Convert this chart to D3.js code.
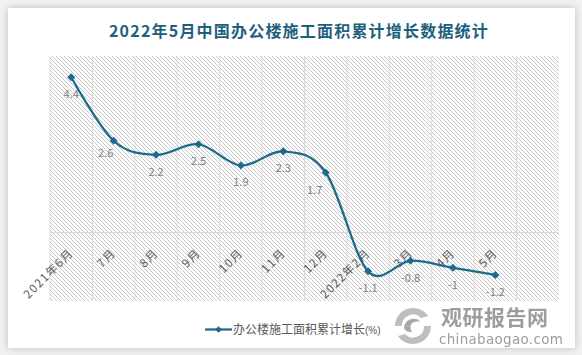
<!DOCTYPE html>
<html><head><meta charset="utf-8">
<script src="https://cdn.jsdelivr.net/npm/d3@7/dist/d3.min.js"></script>
<style>
html,body{margin:0;padding:0;background:#fff;}
svg{display:block;font-family:"Noto Sans CJK SC","Noto Sans",sans-serif;}
</style></head>
<body><svg id="c" width="582" height="355"></svg>
<script>
const title = "2022年5月中国办公楼施工面积累计增长数据统计";
const categories = ["2021年6月","7月","8月","9月","10月","11月","12月","2022年2月","3月","4月","5月"];
const values = [4.4, 2.6, 2.2, 2.5, 1.9, 2.3, 1.7, -1.1, -0.8, -1, -1.2];
const seriesName = "办公楼施工面积累计增长";
const seriesUnit = "(%)";
const yDomain = [-1.94, 5];

const svg = d3.select("#c");
const W = 582, H = 355;
const defs = svg.append("defs");
const f = defs.append("filter").attr("id","sh").attr("x","-5%").attr("y","-5%").attr("width","110%").attr("height","110%");
f.append("feDropShadow").attr("dx",0).attr("dy",0).attr("stdDeviation",3.5).attr("flood-color","#000").attr("flood-opacity",0.22);
const pat = defs.append("pattern").attr("id","hatch").attr("patternUnits","userSpaceOnUse").attr("width",4).attr("height",4);
pat.append("path").attr("d","M-1,-1 L5,5 M3,-1 L5,1 M-1,3 L1,5").attr("stroke","#c6c6c6").attr("stroke-width",1);

svg.append("rect").attr("width",W).attr("height",H).attr("fill","#f1f1f1");
svg.append("rect").attr("x",8).attr("y",8).attr("width",567).attr("height",340).attr("fill","#fff").attr("filter","url(#sh)");

svg.append("text").attr("x",299).attr("y",37).attr("text-anchor","middle")
  .attr("font-size",16).attr("font-weight","bold").attr("letter-spacing",1.2)
  .attr("fill","#1e5f7e").text(title);

const L = 50, R = 559, T = 56, B = 301;
const nSlots = categories.length + 1;
const step = (R - L) / nSlots;
const x = d3.scaleBand().domain(categories).range([L, L + step * categories.length]).padding(0);
const y = d3.scaleLinear().domain(yDomain).range([B, T]);

svg.append("rect").attr("x",L).attr("y",T).attr("width",R-L).attr("height",B-T).attr("fill","url(#hatch)");

const g = svg.append("g");
d3.range(nSlots).forEach(i => {
  g.append("line").attr("x1",L+i*step).attr("x2",L+i*step).attr("y1",T).attr("y2",B)
   .attr("stroke","#d9d9d9").attr("stroke-width",1);
});
g.append("line").attr("x1",L).attr("x2",R).attr("y1",y(0)).attr("y2",y(0)).attr("stroke","#d9d9d9").attr("stroke-width",1);

const ax = svg.append("g").attr("transform",`translate(0,${y(0)})`)
  .call(d3.axisBottom(x).tickSize(0).tickPadding(0));
ax.select(".domain").remove();
ax.selectAll("text")
  .attr("x",0).attr("y",0).attr("dy",0)
  .attr("transform","translate(3,21) rotate(-45)")
  .attr("text-anchor","end")
  .attr("font-size",11.5).attr("letter-spacing",1.4)
  .attr("font-family",'"Noto Sans CJK SC","Noto Sans",sans-serif')
  .attr("fill","#595959");

const cx = d => x(d) + x.bandwidth()/2;
const pts = categories.map((c,i)=>[cx(c), y(values[i])]);
const color = "#1c6a8c";
svg.append("path").attr("d", d3.line().curve(d3.curveCatmullRom.alpha(0))(pts))
  .attr("fill","none").attr("stroke",color).attr("stroke-width",2.25);

svg.selectAll(".m").data(pts).join("path")
  .attr("d",d3.symbol().type(d3.symbolSquare).size(32))
  .attr("transform",d=>`translate(${d[0]},${d[1]}) rotate(45)`)
  .attr("fill",color);

const nudge = {"7月":[-8,-5], "12月":[-11,1]};
svg.selectAll(".lbl").data(categories).join("text")
  .attr("x",(c)=>cx(c) + (nudge[c]?nudge[c][0]:0))
  .attr("y",(c,i)=>y(values[i]) + 21 + (nudge[c]?nudge[c][1]:0))
  .attr("text-anchor","middle").attr("font-size",11).attr("fill","#808080")
  .text((c,i)=>values[i]);

// legend
const lg = svg.append("g");
lg.append("line").attr("x1",205).attr("x2",232).attr("y1",329.5).attr("y2",329.5).attr("stroke",color).attr("stroke-width",2.25);
lg.append("path").attr("d",d3.symbol().type(d3.symbolSquare).size(22)).attr("transform","translate(218.5,329.5) rotate(45)").attr("fill",color);
const lt = lg.append("text").attr("x",233).attr("y",334).attr("font-size",12).attr("fill","#595959");
lt.append("tspan").text(seriesName);
lt.append("tspan").attr("font-size",10).attr("font-family","'Liberation Sans Narrow','Liberation Sans',sans-serif").text(seriesUnit);

// watermark
const wm = svg.append("g").attr("fill","#8c8c8c").attr("opacity",0.85);
wm.append("path").attr("d","M395,326 A18,18 0 0,1 428,316 L421,318 A11,11 0 0,0 402,326 Z").attr("fill","#b3b3b3");
wm.append("path").attr("d","M431,326 A18,18 0 0,1 398,336 L405,334 A11,11 0 0,0 424,326 Z").attr("fill","#b3b3b3");
wm.append("path").attr("d","M404,328 C404,318 418,316 420,322 C412,320 408,326 412,332 C408,332 405,331 404,328 Z").attr("fill","#9a9a9a");
wm.append("text").attr("x",441).attr("y",325).attr("font-size",21).attr("font-weight","bold").attr("letter-spacing",0.5).text("观研报告网");
wm.append("text").attr("x",439).attr("y",344).attr("font-size",13.5).attr("font-family","'DejaVu Sans',sans-serif").attr("letter-spacing",0.3).text("chinabaogao.com");
</script></body></html>
